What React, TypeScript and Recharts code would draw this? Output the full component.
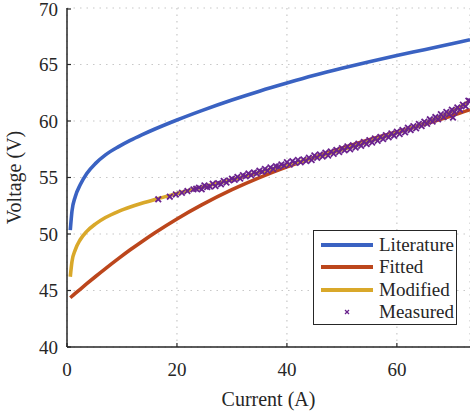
import React from 'react';
import { ComposedChart, Line, Scatter, XAxis, YAxis, CartesianGrid } from 'recharts';

// current (A) sample points shared by the three model curves
const modelCurrent = [0.6, 0.9, 1.5, 2.4, 3.6, 5.2, 7, 9.4, 11.5, 13.6, 16, 20, 24.5, 30, 35, 40, 45, 50, 55, 60, 65, 70, 73.3];
const literatureVoltage = [50.35, 52.0, 53.3, 54.35, 55.35, 56.25, 57.0, 57.73, 58.28, 58.77, 59.29, 60.09, 60.92, 61.86, 62.64, 63.36, 64.04, 64.66, 65.24, 65.79, 66.31, 66.84, 67.19];
const fittedVoltage = [44.36, 44.49, 44.74, 45.11, 45.6, 46.24, 46.94, 47.84, 48.6, 49.32, 50.11, 51.33, 52.57, 53.92, 54.99, 55.94, 56.79, 57.6, 58.35, 59.02, 59.72, 60.46, 61.0];
const modifiedVoltage = [46.22, 47.54, 48.59, 49.49, 50.23, 50.9, 51.46, 52.01, 52.39, 52.72, 53.06, 53.58, 54.14, 54.81, 55.45, 56.1, 56.75, 57.45, 58.2, 58.95, 59.8, 60.85, 61.8];

const measuredCurrent = [
  16.6, 18.7, 19.8, 20.9, 21.9, 23.0, 23.5,
  24, 24.5, 25, 25.5, 26, 26.5, 27, 27.5, 28, 28.5, 29, 29.5, 30, 30.5, 31, 31.5, 32, 32.5, 33, 33.5,
  34, 34.5, 35, 35.5, 36, 36.5, 37, 37.5, 38, 38.5, 39, 39.5, 40, 40.5, 41, 41.5, 42, 42.5, 43, 43.5,
  44, 44.5, 45, 45.5, 46, 46.5, 47, 47.5, 48, 48.5, 49, 49.5, 50, 50.5, 51, 51.5, 52, 52.5, 53, 53.5,
  54, 54.5, 55, 55.5, 56, 56.5, 57, 57.5, 58, 58.5, 59, 59.5, 60, 60.5, 61, 61.5, 62, 62.5, 63, 63.5,
  64, 64.5, 65, 65.5, 66, 66.5, 67, 67.5, 68, 68.5, 69, 69.5, 70, 70.2, 70.5, 71, 71.5, 72, 72.5, 73, 73.3,
];
const measuredVoltage = [
  53.07, 53.3, 53.5, 53.65, 53.8, 53.95, 54.0,
  54.1, 53.95, 54.3, 54.15, 54.2, 54.45, 54.25, 54.5, 54.4, 54.7, 54.55, 54.75, 54.9, 54.8, 55.05, 54.9, 55.2, 55.1, 55.35, 55.2,
  55.45, 55.35, 55.6, 55.5, 55.75, 55.6, 55.9, 55.75, 56.0, 55.95, 56.15, 56.05, 56.35, 56.15, 56.45, 56.3, 56.55, 56.35, 56.6, 56.45,
  56.75, 56.55, 56.95, 56.75, 57.05, 56.85, 57.2, 56.95, 57.3, 57.1, 57.45, 57.25, 57.6, 57.4, 57.75, 57.5, 57.85, 57.65, 58.0, 57.8,
  58.15, 57.95, 58.3, 58.1, 58.45, 58.25, 58.6, 58.4, 58.75, 58.55, 58.9, 58.7, 59.05, 58.85, 59.2, 59.0, 59.4, 59.2, 59.55, 59.35,
  59.75, 59.55, 59.95, 59.75, 60.15, 59.95, 60.35, 60.15, 60.6, 60.35, 60.8, 60.6, 61.0, 60.3, 60.8, 61.2, 61.0, 61.45, 61.3, 61.8, 61.75,
];

const xTicks = [0, 20, 40, 60];
const yTicks = [40, 45, 50, 55, 60, 65, 70];

const series = [
  { name: 'Literature', values: literatureVoltage, color: '#3A62C2' },
  { name: 'Fitted', values: fittedVoltage, color: '#BC461C' },
  { name: 'Modified', values: modifiedVoltage, color: '#D9A82A' },
];
const measuredColor = '#6A228E';

const toPoints = (xs: number[], ys: number[]) => xs.map((i, k) => ({ i, v: ys[k] }));
const measured = toPoints(measuredCurrent, measuredVoltage);

const FONT = "'Liberation Serif', 'DejaVu Serif', Tinos, 'Times New Roman', serif";
const INK = '#262626';
const X_TICK_GAP = 16;

const XTick = (props: any) => {
  const { x, y, payload } = props;
  const axisY = y - X_TICK_GAP;
  return (
    <g>
      <line x1={x} x2={x} y1={axisY} y2={axisY - 4} stroke={INK} strokeWidth={1.2} />
      <text x={x} y={y} dy="0.71em" textAnchor="middle" style={{ fontFamily: FONT }} fontSize={19} fill={INK}>
        {payload.value}
      </text>
    </g>
  );
};

const TopTick = (props: any) => {
  const { x, y } = props;
  return <line x1={x} x2={x} y1={y} y2={y + 4} stroke={INK} strokeWidth={1.2} />;
};

const YTick = (props: any) => {
  const { x, y, payload } = props;
  return (
    <g>
      <line x1={x + 9} x2={x + 13} y1={y} y2={y} stroke={INK} strokeWidth={1.2} />
      <text x={x} y={y} dy="0.35em" textAnchor="end" style={{ fontFamily: FONT }} fontSize={19} fill={INK}>
        {payload.value}
      </text>
    </g>
  );
};

const Cross = (props: any) => {
  const { cx, cy } = props;
  const s = 2.8;
  return (
    <g stroke={measuredColor} strokeWidth={1.8}>
      <line x1={cx - s} y1={cy - s} x2={cx + s} y2={cy + s} />
      <line x1={cx - s} y1={cy + s} x2={cx + s} y2={cy - s} />
    </g>
  );
};

const LegendBox = () => (
  <div
    style={{
      position: 'absolute',
      left: 313,
      top: 230,
      width: 144,
      height: 95,
      boxSizing: 'border-box',
      border: `1.3px solid ${INK}`,
      background: '#fff',
      fontFamily: FONT,
      fontSize: 19,
      color: INK,
      paddingTop: 3,
    }}
  >
    {series.map((s) => (
      <div key={s.name} style={{ display: 'flex', alignItems: 'center', height: 22.3 }}>
        <div style={{ width: 52, height: 4, background: s.color, marginLeft: 7 }} />
        <span style={{ marginLeft: 6, lineHeight: '22px' }}>{s.name}</span>
      </div>
    ))}
    <div style={{ display: 'flex', alignItems: 'center', height: 22.3 }}>
      <svg width={52} height={8} style={{ marginLeft: 7 }}>
        <g stroke={measuredColor} strokeWidth={1.3}>
          <line x1={24} y1={2} x2={28} y2={6} />
          <line x1={24} y1={6} x2={28} y2={2} />
        </g>
      </svg>
      <span style={{ marginLeft: 6, lineHeight: '22px' }}>Measured</span>
    </div>
  </div>
);

export default function App() {
  return (
    <div style={{ position: 'fixed', left: 0, top: 0, width: 470, height: 412, background: '#fff' }}>
      <ComposedChart width={470} height={412} margin={{ top: 8, right: 0, bottom: 0, left: 0 }}>
        <CartesianGrid stroke="#c8c8c8" strokeDasharray="1.5 5" strokeWidth={1.2} />
        <XAxis
          dataKey="i"
          type="number"
          domain={[0, 73.3]}
          allowDataOverflow
          ticks={xTicks}
          height={65}
          axisLine={{ stroke: INK, strokeWidth: 1.5 }}
          tickLine={false}
          tickSize={0}
          tickMargin={X_TICK_GAP}
          tick={<XTick />}
          label={{ value: 'Current (A)', position: 'insideBottom', offset: 6, style: { fontFamily: FONT }, fontSize: 20, fill: INK }}
        />
        <XAxis
          xAxisId="top"
          orientation="top"
          type="number"
          domain={[0, 73.3]}
          allowDataOverflow
          ticks={xTicks}
          height={0}
          axisLine={{ stroke: INK, strokeWidth: 1.5 }}
          tickLine={false}
          tickSize={0}
          tickMargin={0}
          tick={<TopTick />}
        />
        <YAxis
          type="number"
          domain={[40, 70]}
          ticks={yTicks}
          width={67}
          axisLine={{ stroke: INK, strokeWidth: 1.5 }}
          tickLine={false}
          tickSize={0}
          tickMargin={9}
          tick={<YTick />}
          label={{ value: 'Voltage (V)', angle: -90, position: 'insideLeft', offset: 14, style: { fontFamily: FONT, textAnchor: 'middle' }, fontSize: 20, fill: INK }}
        />
        {series.map((s) => (
          <Line
            key={s.name}
            data={toPoints(modelCurrent, s.values)}
            dataKey="v"
            name={s.name}
            type="monotone"
            stroke={s.color}
            strokeWidth={3.6}
            dot={false}
            activeDot={false}
            isAnimationActive={false}
          />
        ))}
        <Scatter data={measured} dataKey="v" name="Measured" shape={<Cross />} isAnimationActive={false} />
      </ComposedChart>
      <LegendBox />
    </div>
  );
}
